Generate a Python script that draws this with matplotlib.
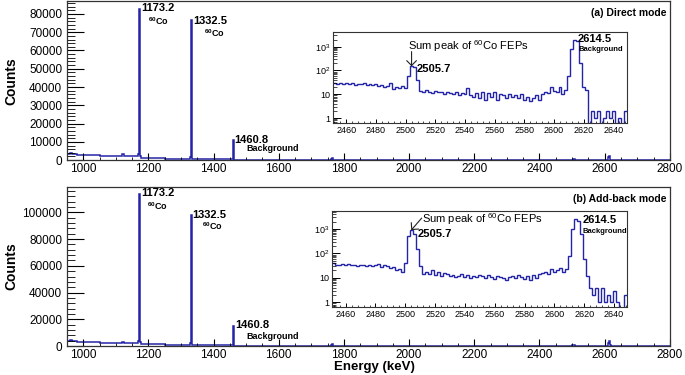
import numpy as np
import matplotlib.pyplot as plt
from matplotlib.ticker import MultipleLocator, FixedLocator, FixedFormatter, LogLocator, NullFormatter

plt.rcParams['font.family'] = ['Liberation Sans', 'DejaVu Sans']
plt.rcParams['mathtext.fontset'] = 'custom'
plt.rcParams['mathtext.rm'] = 'Liberation Sans'
plt.rcParams['mathtext.bf'] = 'Liberation Sans:bold'
plt.rcParams['mathtext.default'] = 'regular'

LINE = '#2424a8'

# ---- full spectra (variable-width bins, keV) ----
main_edges = [950, 958, 965, 980, 1000, 1050, 1100, 1118, 1124, 1168,
              1171, 1172, 1174, 1175, 1178, 1250, 1328, 1331, 1332, 1334,
              1335, 1340, 1400, 1458, 1460, 1462, 1463, 1500, 1760, 1763,
              1766, 2000, 2200, 2500, 2504, 2508, 2610, 2613, 2616, 2620, 2800]
direct_counts = [3600, 4000, 3300, 2900, 2600, 2400, 2300, 3200, 2100, 3500,
                 30000, 82700, 25000, 2500, 1100, 800, 1600, 25000, 76400, 18000,
                 700, 450, 350, 2500, 10800, 2000, 250, 180, 700, 1200,
                 120, 90, 70, 200, 400, 50, 1500, 2500, 300, 5]
addback_counts = [3800, 4300, 3500, 3000, 2700, 2500, 2400, 3300, 2200, 4000,
                  40000, 114000, 35000, 3000, 1200, 900, 2000, 30000, 98000, 25000,
                  800, 500, 400, 3000, 14700, 2500, 300, 200, 800, 1300,
                  150, 110, 90, 600, 1000, 60, 2500, 3500, 400, 8]

# ---- zoomed region 2451-2649 keV, 2 keV bins ----
zoom_edges = np.arange(2451, 2650, 2)
direct_zoom = [30, 28, 31, 27, 29, 26, 30, 25, 28, 27,
               29, 24, 27, 25, 26, 22, 24, 20, 23, 30,
               17, 20, 18, 22, 19,
               60, 150, 140, 40, 14,
               12, 15, 13, 11, 14, 12, 13, 10, 12, 11,
               10, 12, 9, 11, 10, 18, 9, 8, 11, 7,
               12, 6, 11, 8, 13, 6, 10, 9, 7, 10,
               8, 9, 7, 10, 6, 8, 5, 7, 9, 6,
               10, 12, 11, 20, 14,
               12, 20, 10, 15, 60,
               800, 2000, 1800, 200, 20,
               15, 0, 2, 1, 2, 0, 1, 2, 1, 2, 0, 1, 0, 2]
addback_zoom = [40, 35, 33, 38, 34, 36, 32, 35, 30, 33,
                34, 31, 35, 30, 33, 36, 29, 32, 30, 25,
                28, 20, 24, 18, 40,
                500, 900, 600, 150, 30,
                15, 18, 14, 20, 13, 17, 12, 16, 14, 12,
                13, 11, 12, 14, 11, 13, 10, 12, 11, 13,
                12, 10, 13, 11, 9, 12, 11, 10, 8, 11,
                12, 10, 13, 11, 9, 12, 8, 13, 10, 14,
                16, 18, 15, 22, 17,
                20, 25, 18, 22, 80,
                1000, 2500, 2200, 600, 60,
                12, 4, 2, 4, 1, 4, 1, 2, 1, 3, 1, 0, 0, 2]

fig = plt.figure(figsize=(6.85, 3.75), dpi=100)


def main_panel(rect, counts, ymax, ymaj, ymin_step, tag, peaks):
    ax = fig.add_axes(rect)
    ax.stairs(counts, main_edges, color=LINE, lw=1.1, baseline=None)
    ax.set_xlim(950, 2800)
    ax.set_ylim(0, ymax)
    ax.xaxis.set_major_locator(MultipleLocator(200))
    ax.xaxis.set_minor_locator(MultipleLocator(50))
    ax.yaxis.set_major_locator(MultipleLocator(ymaj))
    ax.yaxis.set_minor_locator(MultipleLocator(ymin_step))
    ax.tick_params(which='both', direction='in', top=False, right=False, labelsize=8.5)
    ax.tick_params(axis='y', which='major', length=12, width=0.8)
    ax.tick_params(axis='y', which='minor', length=6, width=0.6)
    ax.tick_params(axis='x', which='major', length=5, width=0.8, pad=2)
    ax.tick_params(axis='x', which='minor', length=2.5, width=0.6)
    for s in ax.spines.values():
        s.set_linewidth(0.9)
        s.set_color('#333333')
    ax.set_ylabel('Counts', fontsize=10, fontweight='bold')
    ax.yaxis.set_label_coords(-0.081, 0.5)
    ax.text(0.995, 0.905, tag, transform=ax.transAxes, ha='right', va='baseline',
            fontsize=7.5, fontweight='bold')
    for x, y, s, fs in peaks:
        ax.text(x, y, s, fontsize=fs, fontweight='bold', va='baseline')
    return ax


def inset(rect, counts, ylim, arrow, labels):
    ax = fig.add_axes(rect)
    ax.stairs(counts, zoom_edges, color=LINE, lw=1.0, baseline=None)
    ax.set_yscale('log', nonpositive='clip')
    ax.set_xlim(2451, 2649)
    ax.set_ylim(*ylim)
    ax.xaxis.set_major_locator(MultipleLocator(20))
    ax.xaxis.set_minor_locator(MultipleLocator(4))
    ax.yaxis.set_major_locator(FixedLocator([1, 10, 100, 1000]))
    ax.yaxis.set_major_formatter(FixedFormatter(['1', '10', r'$10^{2}$', r'$10^{3}$']))
    ax.yaxis.set_minor_locator(LogLocator(base=10, subs=np.arange(2, 10)))
    ax.yaxis.set_minor_formatter(NullFormatter())
    ax.tick_params(which='both', direction='in', top=False, right=False, labelsize=6.5, pad=2)
    ax.tick_params(axis='y', which='major', length=6, width=0.7)
    ax.tick_params(axis='y', which='minor', length=3, width=0.5)
    ax.tick_params(axis='x', which='major', length=3, width=0.7)
    ax.tick_params(axis='x', which='minor', length=1.5, width=0.5)
    for s in ax.spines.values():
        s.set_linewidth(0.8)
        s.set_color('#333333')
    ax.annotate('', xy=arrow[1], xytext=arrow[0],
                arrowprops=dict(arrowstyle='->,head_length=0.35,head_width=0.35',
                                color='#222222', lw=0.8, shrinkA=0, shrinkB=0))
    for x, y, s, fs, w in labels:
        ax.text(x, y, s, transform=ax.transAxes, fontsize=fs, fontweight=w, va='baseline')
    return ax


co = r'$\mathbf{^{60}}$Co'

ax_a = main_panel([0.0978, 0.573, 0.880, 0.424], direct_counts, 87000, 10000, 2000,
                  '(a) Direct mode',
                  [(1177, 81500, '1173.2', 8), (1198, 74000, co, 6.5),
                   (1336, 74500, '1332.5', 8), (1370, 67500, co, 6.5),
                   (1462, 9300, '1460.8', 8), (1502, 5200, 'Background', 6.5)])

ax_b = main_panel([0.0978, 0.0773, 0.880, 0.424], addback_counts, 119000, 20000, 4000,
                  '(b) Add-back mode',
                  [(1177, 112500, '1173.2', 8), (1195, 102000, co, 6.5),
                   (1333, 96000, '1332.5', 8), (1364, 87000, co, 6.5),
                   (1465, 13500, '1460.8', 8), (1500, 5500, 'Background', 6.5)])
ax_b.set_xlabel('Energy (keV)', fontsize=9.5, fontweight='bold')
ax_b.xaxis.set_label_coords(0.51, -0.097)

sum_txt = r'Sum peak of $^{60}$Co FEPs'

inset([0.486, 0.672, 0.429, 0.243], direct_zoom, (0.62, 4200),
      ((2504, 620), (2504, 150)),
      [(0.255, 0.80, sum_txt, 8, 'normal'),
       (0.286, 0.56, '2505.7', 8, 'bold'),
       (0.833, 0.89, '2614.5', 8, 'bold'),
       (0.836, 0.79, 'Background', 5.5, 'bold')])

inset([0.485, 0.181, 0.431, 0.256], addback_zoom, (0.63, 5400),
      ((2511, 2800), (2504, 900)),
      [(0.305, 0.875, sum_txt, 8, 'normal'),
       (0.288, 0.73, '2505.7', 8, 'bold'),
       (0.847, 0.875, '2614.5', 8, 'bold'),
       (0.849, 0.77, 'Background', 5.5, 'bold')])

plt.savefig('out.png', dpi=100)
